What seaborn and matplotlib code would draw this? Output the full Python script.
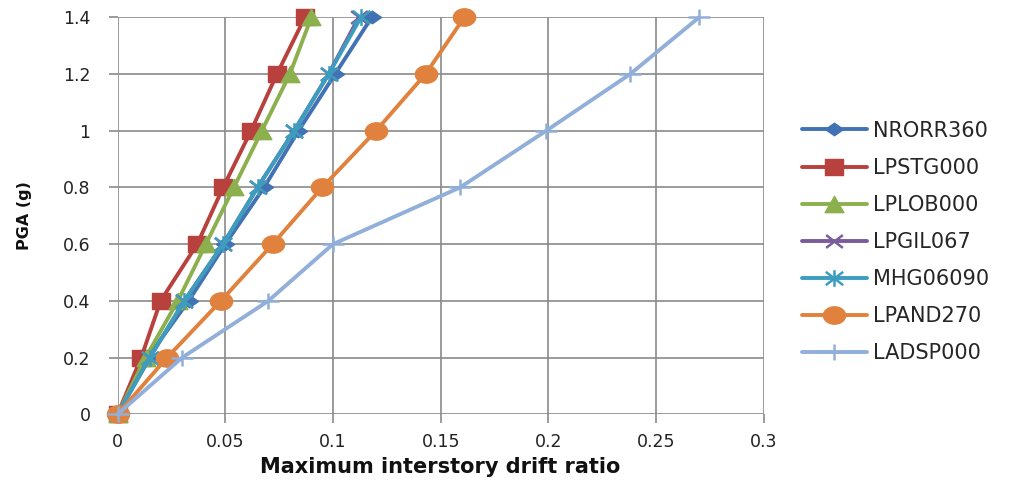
import numpy as np
import pandas as pd
import matplotlib
matplotlib.use("Agg")
import matplotlib.pyplot as plt
from matplotlib.path import Path
import seaborn as sns

# ---- data ----
pga = [0.0, 0.2, 0.4, 0.6, 0.8, 1.0, 1.2, 1.4]
series_names = ["NRORR360", "LPSTG000", "LPLOB000", "LPGIL067", "MHG06090", "LPAND270", "LADSP000"]
nrorr360 = [0.0, 0.014, 0.033, 0.050, 0.068, 0.084, 0.101, 0.118]
lpstg000 = [0.0, 0.011, 0.020, 0.037, 0.049, 0.062, 0.074, 0.087]
lplob000 = [0.0, 0.013, 0.028, 0.041, 0.054, 0.067, 0.080, 0.090]
lpgil067 = [0.0, 0.015, 0.031, 0.049, 0.065, 0.082, 0.098, 0.112]
mhg06090 = [0.0, 0.015, 0.031, 0.049, 0.065, 0.082, 0.098, 0.113]
lpand270 = [0.0, 0.023, 0.048, 0.072, 0.095, 0.120, 0.143, 0.161]
ladsp000 = [0.0, 0.030, 0.070, 0.100, 0.159, 0.199, 0.238, 0.270]
x_ticks = [0, 0.05, 0.1, 0.15, 0.2, 0.25, 0.3]
x_tick_labels = ["0", "0.05", "0.1", "0.15", "0.2", "0.25", "0.3"]
y_ticks = [0, 0.2, 0.4, 0.6, 0.8, 1.0, 1.2, 1.4]
y_tick_labels = ["0", "0.2", "0.4", "0.6", "0.8", "1", "1.2", "1.4"]

values = [nrorr360, lpstg000, lplob000, lpgil067, mhg06090, lpand270, ladsp000]

# ---- styling ----
sns.set_theme(style="white")
plt.rcParams['font.family'] = ['DejaVu Sans']

colors = ["#4173B4", "#B8403D", "#8DB04E", "#7A5C9C", "#3C9DBE", "#E0823D", "#91AFD8"]

def closed(verts):
    v = list(verts) + [verts[0]]
    codes = [Path.MOVETO] + [Path.LINETO] * (len(verts) - 1) + [Path.CLOSEPOLY]
    return Path(v, codes)

def segs(pairs):
    v, c = [], []
    for a, b in pairs:
        v += [a, b]
        c += [Path.MOVETO, Path.LINETO]
    return Path(v, c)

t = np.linspace(0, 2 * np.pi, 40, endpoint=False)
m_diamond = closed([(0, 1), (1.45, 0), (0, -1), (-1.45, 0)])
m_square = closed([(-1.15, -1), (1.15, -1), (1.15, 1), (-1.15, 1)])
m_tri = closed([(0, 1), (1.15, -1), (-1.15, -1)])
m_x = segs([((-1.3, -1), (1.3, 1)), ((-1.3, 1), (1.3, -1))])
m_star = segs([((-1.3, -1), (1.3, 1)), ((-1.3, 1), (1.3, -1)), ((0, -1.25), (0, 1.25))])
m_circle = closed([(1.28 * np.cos(a), np.sin(a)) for a in t])
m_plus = segs([((-1.5, 0), (1.5, 0)), ((0, -1), (0, 1))])

markers = [m_diamond, m_square, m_tri, m_x, m_star, m_circle, m_plus]
msizes = [13, 12.5, 13.5, 12, 12.5, 16, 16.5]
filled = [True, True, True, False, False, True, False]

fig = plt.figure(figsize=(10.21, 4.86), dpi=100)
ax = fig.add_axes([0.1151, 0.1475, 0.633, 0.8169])

for name, vals, col, mk, ms, fl in zip(series_names, values, colors, markers, msizes, filled):
    df = pd.DataFrame({"drift": vals, "pga": pga})
    kw = dict(markerfacecolor=col if fl else "none", markeredgecolor=col,
              markeredgewidth=1.0 if fl else 1.8)
    sns.lineplot(data=df, x="drift", y="pga", ax=ax, color=col, marker=mk,
                 markersize=ms, linewidth=2.8, label=name, sort=False,
                 clip_on=False, **kw)

ax.set_xlim(0, 0.3)
ax.set_ylim(0, 1.4)
ax.set_xticks(x_ticks)
ax.set_xticklabels(x_tick_labels)
ax.set_yticks(y_ticks)
ax.set_yticklabels(y_tick_labels)
for s in ax.spines.values():
    s.set_visible(False)
ax.grid(True, color="#8A8A8A", linewidth=1.2)
ax.set_axisbelow(True)
ax.tick_params(axis="both", which="major", direction="out", length=6.5, width=1.2,
               color="#8A8A8A", labelsize=12.5, labelcolor="#222222")
ax.tick_params(axis="y", pad=13, left=True)
ax.tick_params(axis="x", pad=7, bottom=True)

ax.set_xlabel("Maximum interstory drift ratio", fontsize=15, fontweight="bold", color="#111111", labelpad=4)
ax.set_ylabel("PGA (g)", fontsize=11.5, fontweight="bold", color="#111111", labelpad=22)

ax.legend(loc="center left", bbox_to_anchor=(0.7855, 0.502), bbox_transform=fig.transFigure,
          frameon=False, fontsize=15, handlelength=3.1, handletextpad=0.3,
          labelspacing=0.82, borderpad=0, borderaxespad=0)

fig.savefig("out.png", dpi=100)
